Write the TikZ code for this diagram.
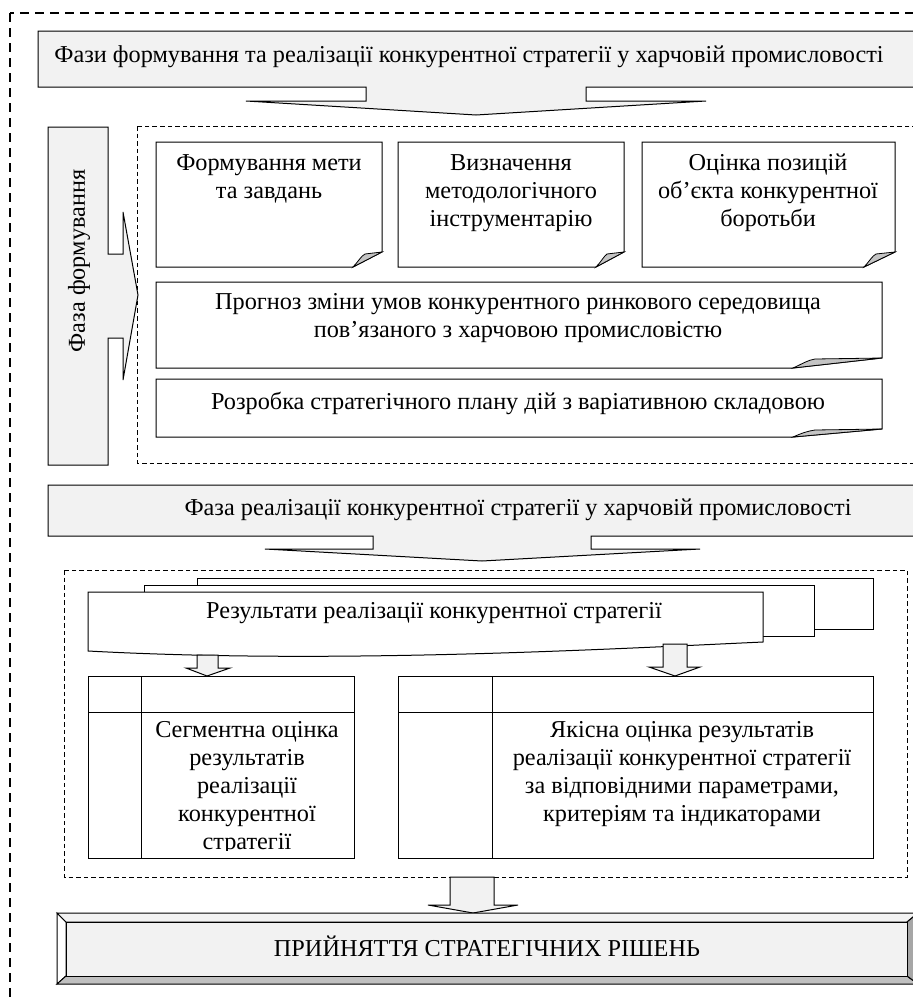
\documentclass[tikz,border=0pt]{standalone}
\usepackage{fontspec}
\setmainfont{Liberation Serif}
\definecolor{lightg}{HTML}{F2F2F2}
\definecolor{curlg}{HTML}{C4C4C4}
\definecolor{bevmid}{HTML}{C0C0C0}
\definecolor{bevdark}{HTML}{A6A6A6}
\begin{document}
\begin{tikzpicture}[x=0.75pt,y=-0.75pt,line width=0.75pt,line join=miter,
  txt/.style={font=\fontsize{18.2}{21}\selectfont,align=center,inner sep=0pt},
  outerdash/.style={draw=black,dash pattern=on 6.75pt off 4.5pt,line width=0.9pt},
  innerdash/.style={draw=black,dash pattern=on 3.4pt off 2.3pt,line width=0.75pt},
  gfill/.style={fill=lightg,draw=black},
  wbox/.style={fill=white,draw=black},
  curl/.style={fill=curlg,draw=black,line width=0.6pt}]
\useasboundingbox (0,0) rectangle (913,1003);
\clip (0,0) rectangle (913,1003);

% outer dashed frame
\draw[outerdash] (10,13) rectangle (950,1040);

% top callout
\draw[gfill] (38,31) -- (950,31) -- (950,87) -- (586,87) -- (586,101) -- (706,101)
  -- (476,115) -- (246,101) -- (366,101) -- (366,87) -- (38,87) -- cycle;
\node[txt] (title) at (469,57) {Фази формування та реалізації конкурентної стратегії у харчовій промисловості};

% formation dashed area
\draw[innerdash] (137,126) rectangle (950,463);

% formation phase callout (vertical)
\draw[gfill] (48,127) -- (108,127) -- (108,254) -- (123,254) -- (123,212) -- (138,295)
  -- (123,380) -- (123,338) -- (108,338) -- (108,465) -- (48,465) -- cycle;
\node[txt,rotate=90] (phase1) at (79,261) {Фаза формування};

% box 1
\draw[wbox] (156,142) -- (382,142) -- (382,252) -- (353,267) -- (156,267) -- cycle;
\draw[curl] (353,267) .. controls (358,262) and (361,256) .. (365,254) -- (382,252) -- cycle;
\node[txt] (goal) at (269,179) {Формування мети\\та завдань};

% box 2
\draw[wbox] (398,142) -- (624,142) -- (624,252) -- (596,267) -- (398,267) -- cycle;
\draw[curl] (596,267) .. controls (601,262) and (604,256) .. (607,254) -- (624,252) -- cycle;
\node[txt] (method) at (511,193) {Визначення\\методологічного\\інструментарію};

% box 3
\draw[wbox] (642,142) -- (895,142) -- (895,252) -- (864,267) -- (642,267) -- cycle;
\draw[curl] (864,267) .. controls (869,262) and (872,256) .. (876,254) -- (895,252) -- cycle;
\node[txt] (assess) at (768,193) {Оцінка позицій\\об’єкта конкурентної\\боротьби};

% box 4
\draw[wbox] (156,282) -- (882,282) -- (882,358) -- (793,368) -- (156,368) -- cycle;
\draw[curl] (793,368) .. controls (802,364) and (808,360) .. (815,359) -- (882,358) -- cycle;
\node[txt] (forecast) at (518,318) {Прогноз зміни умов конкурентного ринкового середовища\\пов’язаного з харчовою промисловістю};

% box 5
\draw[wbox] (156,379) -- (882,379) -- (882,429) -- (793,437) -- (156,437) -- cycle;
\draw[curl] (793,437) .. controls (802,433) and (808,431) .. (815,430) -- (882,429) -- cycle;
\node[txt] (plan) at (518,403) {Розробка стратегічного плану дій з варіативною складовою};

% realization callout
\draw[gfill] (48,485) -- (950,485) -- (950,536) -- (591,536) -- (591,549) -- (700,549)
  -- (482,561) -- (265,549) -- (373,549) -- (373,536) -- (48,536) -- cycle;
\node[txt] (phase2) at (518,510) {Фаза реалізації конкурентної стратегії у харчовій промисловості};

% results dashed area
\draw[innerdash] (64,570) rectangle (907,877);

% multi-document
\draw[wbox] (197,578) rectangle (873,629);
\draw[wbox] (144,585) rectangle (814,636);
\draw[wbox] (88,592) -- (763,592) -- (763,642) .. controls (590,650) and (330,664) .. (88,651) -- cycle;
\node[txt] (results) at (434,613) {Результати реалізації конкурентної стратегії};

% small arrows
\draw[gfill] (197,655) -- (218,655) -- (218,668) -- (230,668) -- (207,676) -- (186,668) -- (197,668) -- cycle;
\draw[gfill] (663,644) -- (687,644) -- (687,667) -- (700,667) -- (675,676) -- (649,667) -- (663,667) -- cycle;

% left table box
\draw[wbox] (88,676) rectangle (354,858);
\draw (141,676) -- (141,858);
\draw (88,712) -- (354,712);
\begin{scope}
\clip (142,713) rectangle (353,850);
\node[txt] (segment) at (247,788) {Сегментна оцінка\\результатів\\реалізації\\конкурентної\\стратегії};
\end{scope}

% right table box
\draw[wbox] (398,676) rectangle (873,858);
\draw (492,676) -- (492,858);
\draw (398,712) -- (873,712);
\node[txt] (quality) at (682,774) {Якісна оцінка результатів\\реалізації конкурентної стратегії\\за відповідними параметрами,\\критеріям та індикаторами};

% big arrow
\draw[gfill] (450,877) -- (494,877) -- (494,905) -- (518,905) -- (473,913) -- (428,905) -- (450,905) -- cycle;

% bevel box
\draw[fill=white] (57,913) -- (66,922) -- (66,976) -- (57,984) -- cycle;
\draw[fill=lightg] (57,913) -- (918,913) -- (907,922) -- (66,922) -- cycle;
\draw[fill=bevmid] (57,984) -- (66,976) -- (907,976) -- (918,984) -- cycle;
\draw[fill=bevdark] (918,913) -- (907,922) -- (907,976) -- (918,984) -- cycle;
\draw[fill=lightg] (66,922) rectangle (907,976);
\node[txt] (decision) at (487,946) {ПРИЙНЯТТЯ СТРАТЕГІЧНИХ РІШЕНЬ};
\end{tikzpicture}
\end{document}
